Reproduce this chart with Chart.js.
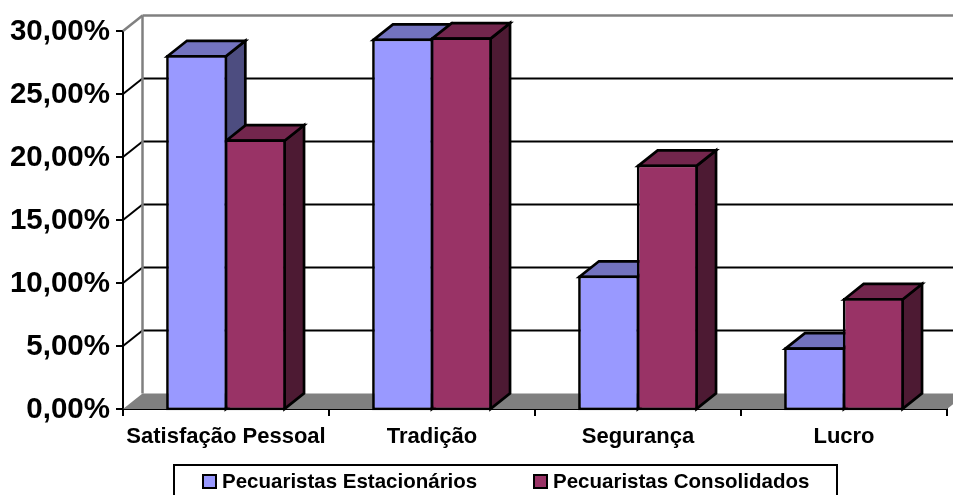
<!DOCTYPE html>
<html lang="pt">
  <head>
    <meta charset="UTF-8" />
    <title>Motivos</title>
    <script src="https://cdn.jsdelivr.net/npm/chart.js"></script>
    <style>
      html, body { margin: 0; padding: 0; background: #fff; overflow: hidden; }
      #wrap { width: 953px; height: 495px; }
    </style>
  </head>
  <body>
    <div id="wrap"><canvas id="chart"></canvas></div>
    <script>
      const categories = ['Satisfação Pessoal', 'Tradição', 'Segurança', 'Lucro'];
      const seriesNames = ['Pecuaristas Estacionários', 'Pecuaristas Consolidados'];
      const estacionarios = [28.1, 29.4, 10.6, 4.9];
      const consolidados = [21.4, 29.5, 19.4, 8.8];
      const tickLabels = ['0,00%', '5,00%', '10,00%', '15,00%', '20,00%', '25,00%', '30,00%'];

      const FONT = '"Liberation Sans", Arial, sans-serif';
      // depth of the fake 3D box, same offset for walls and bars
      const DX = 19.5;
      const DY = 15.5;
      const BAR_BORDER = 2.7;
      const shades = [
        { front: '#9999FF', top: '#7373BF', side: '#4D4D80' },
        { front: '#993366', top: '#73264D', side: '#4D1A33' }
      ];

      function poly(ctx, pts, fill, stroke) {
        ctx.beginPath();
        pts.forEach((p, i) => (i ? ctx.lineTo(p[0], p[1]) : ctx.moveTo(p[0], p[1])));
        ctx.closePath();
        if (fill) {
          ctx.fillStyle = fill;
          ctx.fill();
        }
        if (stroke) {
          ctx.strokeStyle = stroke;
          ctx.stroke();
        }
      }

      function line(ctx, x0, y0, x1, y1, color, w) {
        ctx.beginPath();
        ctx.moveTo(x0, y0);
        ctx.lineTo(x1, y1);
        ctx.strokeStyle = color;
        ctx.lineWidth = w;
        ctx.stroke();
      }

      // walls, floor, gridlines and the top/side faces of the bars
      const box3d = {
        id: 'box3d',
        beforeDatasetsDraw(chart) {
          const { ctx, scales, chartArea } = chart;
          const y = scales.y;
          const left = chartArea.left;
          const right = chartArea.right;
          const base = y.getPixelForValue(0);
          const top = y.getPixelForValue(30);
          ctx.save();
          poly(ctx, [[left, base], [left + DX, base - DY], [right + DX, base - DY], [right, base]], '#808080');
          tickLabels.forEach((t, i) => {
            if (i === 0 || i === tickLabels.length - 1) return;
            const py = y.getPixelForValue(i * 5);
            line(ctx, left, py, left + DX, py - DY, '#000', 2);
            line(ctx, left + DX, py - DY, chart.width + 5, py - DY, '#000', 2);
          });
          line(ctx, left, top, left + DX, top - DY, '#808080', 2.5);
          line(ctx, left + DX, top - DY, chart.width + 5, top - DY, '#808080', 2.5);
          line(ctx, left + DX, top - DY, left + DX, base - DY, '#808080', 2.5);

          ctx.lineWidth = BAR_BORDER;
          ctx.lineJoin = 'miter';
          const inset = BAR_BORDER / 2;
          chart.data.datasets.forEach((ds, i) => {
            chart.getDatasetMeta(i).data.forEach((bar) => {
              // chart.js keeps the border inside the bar, so go to the stroke centre
              const x0 = bar.x - bar.width / 2 + inset;
              const x1 = bar.x + bar.width / 2 - inset;
              const yt = bar.y + inset;
              const yb = bar.base - inset;
              poly(ctx, [[x1, yt], [x1 + DX, yt - DY], [x1 + DX, yb - DY], [x1, yb]], shades[i].side, '#000');
              poly(ctx, [[x0, yt], [x0 + DX, yt - DY], [x1 + DX, yt - DY], [x1, yt]], shades[i].top, '#000');
            });
          });
          ctx.restore();
        }
      };

      // legend frame runs off the bottom of the page, like the original
      const legendBox = {
        id: 'legendBox',
        afterDraw(chart) {
          const { ctx } = chart;
          const markers = [202, 533];
          ctx.save();
          ctx.lineWidth = 2;
          ctx.strokeStyle = '#000';
          ctx.strokeRect(174, 465, 663, 40);
          ctx.font = 'bold 20.5px ' + FONT;
          ctx.textBaseline = 'alphabetic';
          chart.data.datasets.forEach((ds, i) => {
            ctx.fillStyle = shades[i].front;
            ctx.fillRect(markers[i] + 1, 475, 13, 13);
            ctx.strokeRect(markers[i] + 1, 475, 13, 13);
            ctx.fillStyle = '#000';
            ctx.fillText(ds.label, markers[i] + 20, 488);
          });
          ctx.restore();
        }
      };

      new Chart(document.getElementById('chart'), {
        type: 'bar',
        data: {
          labels: categories,
          datasets: [
            { label: seriesNames[0], data: estacionarios, backgroundColor: shades[0].front },
            { label: seriesNames[1], data: consolidados, backgroundColor: shades[1].front }
          ]
        },
        options: {
          responsive: true,
          maintainAspectRatio: false,
          animation: false,
          devicePixelRatio: 1,
          layout: { padding: { top: 31, right: 6, left: 0, bottom: 0 } },
          datasets: {
            bar: {
              barPercentage: 1.04,
              categoryPercentage: 0.57,
              base: -0.1,
              clip: false,
              borderColor: '#000',
              borderWidth: BAR_BORDER,
              borderSkipped: false
            }
          },
          scales: {
            x: {
              afterFit(scale) {
                scale.height = 86;
              },
              grid: { drawOnChartArea: false, color: '#000', lineWidth: 2, tickLength: 7 },
              border: { color: '#000', width: 2 },
              ticks: {
                color: '#000',
                maxRotation: 0,
                padding: 8,
                font: { family: FONT, size: 22, weight: 'bold' }
              }
            },
            y: {
              min: 0,
              max: 30,
              afterFit(scale) {
                scale.width = 123;
              },
              grid: { drawOnChartArea: false, color: '#000', lineWidth: 2, tickLength: 7 },
              border: { color: '#000', width: 2 },
              ticks: {
                stepSize: 5,
                color: '#000',
                padding: 6,
                labelOffset: 1,
                font: { family: FONT, size: 29.5, weight: 'bold' },
                callback: (v, i) => tickLabels[i]
              }
            }
          },
          plugins: {
            title: { display: false },
            tooltip: { enabled: false },
            legend: { display: false }
          }
        },
        plugins: [box3d, legendBox]
      });
    </script>
  </body>
</html>
